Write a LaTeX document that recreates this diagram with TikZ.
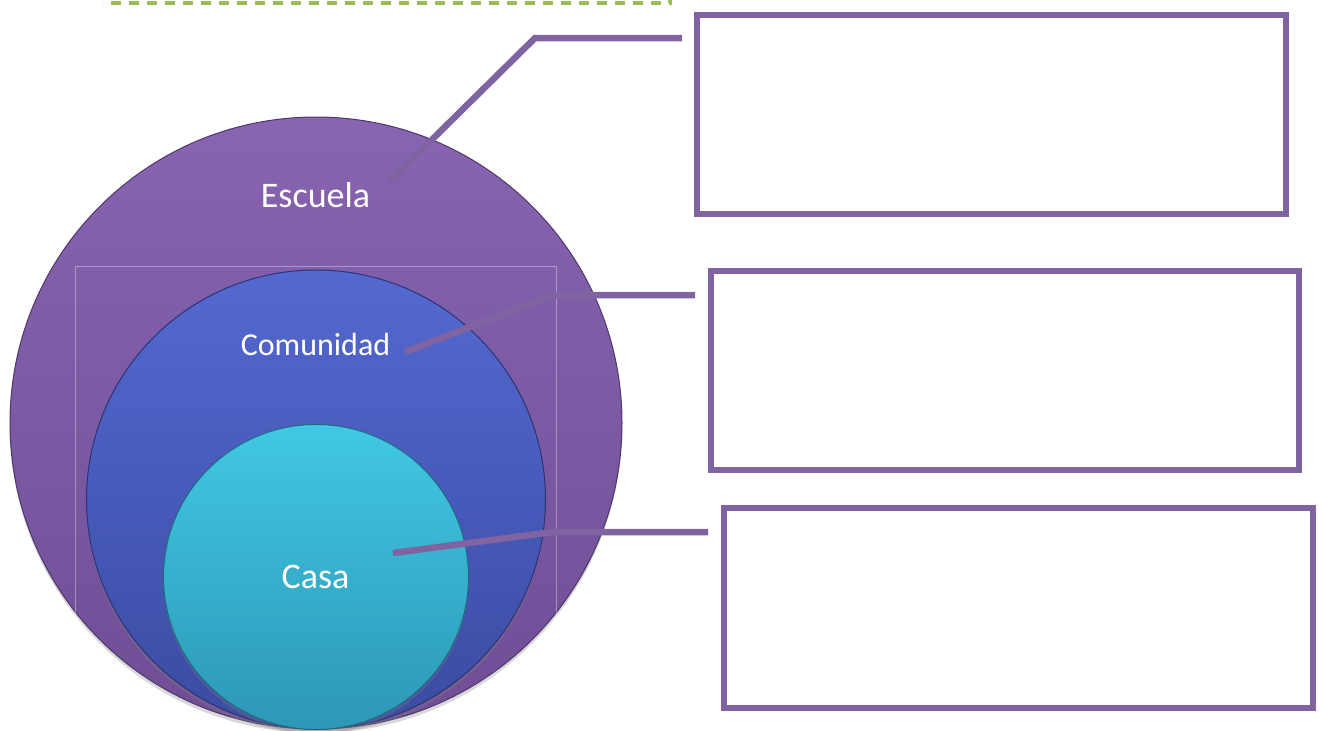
\documentclass[tikz,border=0pt]{standalone}
\usepackage{fontspec}
\setmainfont{Carlito}
\usepackage{tikz}
\usetikzlibrary{shadows}
\definecolor{frameColor}{HTML}{8064A2}
\definecolor{escuelaTop}{HTML}{8864B1}
\definecolor{escuelaBot}{HTML}{6F4E96}
\definecolor{comunidadTop}{HTML}{5468D0}
\definecolor{comunidadBot}{HTML}{3B4BA2}
\definecolor{casaTop}{HTML}{40C8E4}
\definecolor{casaBot}{HTML}{2D97B6}
\definecolor{dashColor}{HTML}{9BBB59}

\begin{document}
\begin{tikzpicture}[x=1pt, y=-1pt,
    ring/.style={circle, inner sep=0pt, line width=1pt,
        drop shadow={shadow xshift=0pt, shadow yshift=-4pt, opacity=0.3}},
    ringtext/.style={text=white, anchor=base},
    answerbox/.style={rectangle, draw=frameColor, line width=6.5pt, fill=white, inner sep=0pt},
    leader/.style={draw=frameColor, line width=6.5pt}]
    \useasboundingbox (0, 0) rectangle (1323, 731);

    % dashed edge of the title frame
    \draw[dashColor, line width=4pt, dash pattern=on 10pt off 8pt] (670, -6) -- (670, 3) -- (103, 3);

    % nested circles
    \node[ring, draw=escuelaBot!70!black, minimum size=612pt, top color=escuelaTop, bottom color=escuelaBot] (escuela) at (316, 423) {};
    \draw[white, opacity=0.35, line width=1pt] (75, 740) -- (75, 266) -- (556, 266) -- (556, 740);
    \node[ring, draw=comunidadBot!70!black, minimum size=459pt, top color=comunidadTop, bottom color=comunidadBot] (comunidad) at (316, 499.5) {};
    \node[ring, draw=casaBot!70!black, minimum size=305pt, top color=casaTop, bottom color=casaBot] (casa) at (316, 577) {};

    \node[ringtext, font=\fontsize{36}{40}\selectfont] (tEscuela) at (315.5, 207) {Escuela};
    \node[ringtext, font=\fontsize{32}{36}\selectfont] (tComunidad) at (315.5, 355) {Comunidad};
    \node[ringtext, font=\fontsize{36}{40}\selectfont] (tCasa) at (315.5, 588) {Casa};

    % empty answer boxes
    \node[answerbox, minimum width=589pt, minimum height=199pt] (box1) at (991.5, 114.5) {};
    \node[answerbox, minimum width=588pt, minimum height=199pt] (box2) at (1005, 370.5) {};
    \node[answerbox, minimum width=589pt, minimum height=200pt] (box3) at (1018.5, 608) {};

    % leader lines
    \coordinate (s1) at (388, 183);
    \coordinate (k1) at (535, 38);
    \coordinate (e1) at (682, 38);
    \coordinate (s2) at (405, 352);
    \coordinate (k2) at (553, 295);
    \coordinate (e2) at (695, 295);
    \coordinate (s3) at (393, 553);
    \coordinate (k3) at (553, 532);
    \coordinate (e3) at (708, 532);
    \foreach \i in {1, 2, 3}
        \draw[leader] (s\i) -- (k\i) -- (e\i);
\end{tikzpicture}
\end{document}
